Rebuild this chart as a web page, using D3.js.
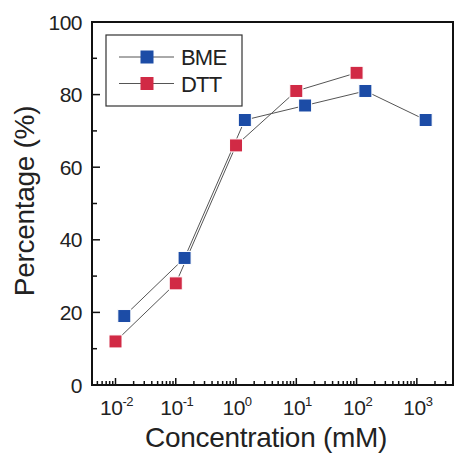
<!DOCTYPE html>
<html><head><meta charset="utf-8">
<script src="https://cdn.jsdelivr.net/npm/d3@7/dist/d3.min.js"></script>
<style>body{margin:0;background:#fff}svg{display:block}text{font-family:"Liberation Sans",Arial,sans-serif;fill:#222}</style>
</head><body><svg id="c" width="455" height="454"></svg>
<script>
const bmeX = [0.014, 0.14, 1.4, 14, 140, 1400];
const bmeY = [19, 35, 73, 77, 81, 73];
const dttX = [0.01, 0.1, 1, 10, 100];
const dttY = [12, 28, 66, 81, 86];
const xTickExps = [-2, -1, 0, 1, 2, 3];
const yTicks = [0, 20, 40, 60, 80, 100];
const seriesNames = ["BME", "DTT"];
const seriesColors = ["#1c4ca6", "#d12a45"];

const svg = d3.select("#c");
const L = 92, R = 453, T = 22, B = 385;
const x = d3.scaleLog().domain([Math.pow(10, -2.39), Math.pow(10, 3.6)]).range([L, R]);
const y = d3.scaleLinear().domain([0, 100]).range([B, T]);

const minors = [];
for (let e = -3; e <= 3; e++) for (let m = 2; m <= 9; m++) { const v = m * Math.pow(10, e); if (v > x.domain()[0] && v < x.domain()[1]) minors.push(v); }
const g = svg.append("g");
g.selectAll(".xm").data(minors).enter().append("line")
  .attr("x1", d => x(d)).attr("x2", d => x(d)).attr("y1", B).attr("y2", B - 4)
  .attr("stroke", "#111").attr("stroke-width", 1.5);
g.selectAll(".xM").data(xTickExps).enter().append("line")
  .attr("x1", d => x(Math.pow(10, d))).attr("x2", d => x(Math.pow(10, d))).attr("y1", B).attr("y2", B - 7)
  .attr("stroke", "#111").attr("stroke-width", 1.5);
const yMin = d3.range(10, 100, 20);
g.selectAll(".ym").data(yMin).enter().append("line")
  .attr("x1", L).attr("x2", L + 5).attr("y1", d => y(d)).attr("y2", d => y(d))
  .attr("stroke", "#111").attr("stroke-width", 1.5);
g.selectAll(".yM").data(yTicks).enter().append("line")
  .attr("x1", L).attr("x2", L + 8).attr("y1", d => y(d)).attr("y2", d => y(d))
  .attr("stroke", "#111").attr("stroke-width", 1.5);

svg.append("rect").attr("x", L).attr("y", T).attr("width", R - L).attr("height", B - T)
  .attr("fill", "none").attr("stroke", "#111").attr("stroke-width", 2);

svg.selectAll(".yl").data(yTicks).enter().append("text")
  .attr("x", 82).attr("y", d => y(d) + 7.5).attr("text-anchor", "end")
  .attr("font-size", 21).attr("letter-spacing", -0.5).text(d => d);
const xl = svg.selectAll(".xl").data(xTickExps).enter().append("text")
  .attr("x", d => x(Math.pow(10, d)) + 1).attr("y", 415).attr("text-anchor", "middle")
  .attr("font-size", 21).attr("letter-spacing", -0.5);
xl.append("tspan").text("10");
xl.append("tspan").attr("font-size", 13).attr("dy", -9).text(d => String(d));

svg.append("text").attr("x", 266).attr("y", 447).attr("text-anchor", "middle")
  .attr("font-size", 28).attr("letter-spacing", -0.3).text("Concentration (mM)");
svg.append("text").attr("transform", "translate(34,201) rotate(-90)").attr("text-anchor", "middle")
  .attr("font-size", 28).attr("letter-spacing", -0.3).text("Percentage (%)");

const data = [bmeX.map((v, i) => [v, bmeY[i]]), dttX.map((v, i) => [v, dttY[i]])];
const line = d3.line().x(d => x(d[0])).y(d => y(d[1]));
data.forEach((s) => {
  svg.append("path").attr("d", line(s)).attr("fill", "none").attr("stroke", "#555").attr("stroke-width", 1);
});
const ms = 13;
data.forEach((s, k) => {
  svg.selectAll(".m" + k).data(s).enter().append("rect")
    .attr("x", d => x(d[0]) - ms / 2).attr("y", d => y(d[1]) - ms / 2)
    .attr("width", ms).attr("height", ms).attr("fill", seriesColors[k])
    .attr("stroke", "#fff").attr("stroke-width", 1);
});

svg.append("rect").attr("x", 106).attr("y", 35).attr("width", 136).attr("height", 71)
  .attr("fill", "#fff").attr("stroke", "#333").attr("stroke-width", 1.2);
seriesNames.forEach((n, k) => {
  const yy = 57 + k * 26.5;
  svg.append("line").attr("x1", 119).attr("x2", 174).attr("y1", yy).attr("y2", yy).attr("stroke", "#555").attr("stroke-width", 1);
  svg.append("rect").attr("x", 147 - ms / 2).attr("y", yy - ms / 2).attr("width", ms).attr("height", ms).attr("fill", seriesColors[k]);
  svg.append("text").attr("x", 181).attr("y", yy + 8).attr("font-size", 22).attr("letter-spacing", -0.8).text(n);
});
</script></body></html>
